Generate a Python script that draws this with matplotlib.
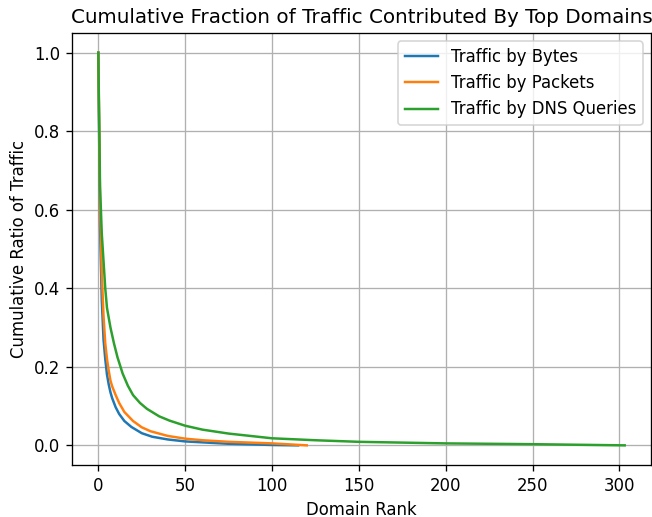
import numpy as np
import matplotlib
matplotlib.use('Agg')
import matplotlib.pyplot as plt

# values (domain rank -> remaining fraction)
bytes_rank = [0, 1, 2, 3, 4, 5, 6, 7, 8, 10, 12, 15, 19, 25, 31, 40, 50, 75, 100, 115]
bytes_ratio = [1.0, 0.56, 0.37, 0.27, 0.22, 0.18, 0.155, 0.135, 0.12, 0.097, 0.08,
               0.062, 0.047, 0.031, 0.022, 0.015, 0.01, 0.004, 0.001, 0.0]

packets_rank = [0, 1, 2, 3, 4, 5, 6, 7, 8, 10, 12, 15, 20, 25, 30, 40, 50, 60, 75, 100, 120]
packets_ratio = [1.0, 0.62, 0.44, 0.33, 0.26, 0.22, 0.19, 0.165, 0.15, 0.128, 0.108,
                 0.085, 0.062, 0.046, 0.036, 0.024, 0.017, 0.013, 0.009, 0.005, 0.0]

dns_rank = [0, 1, 2, 3, 4, 5, 7, 9, 11, 14, 17, 20, 24, 28, 35, 41, 50, 60, 75,
            100, 125, 150, 200, 250, 303]
dns_ratio = [1.0, 0.66, 0.54, 0.47, 0.40, 0.35, 0.30, 0.26, 0.225, 0.183, 0.152,
             0.128, 0.108, 0.093, 0.074, 0.063, 0.05, 0.04, 0.03, 0.018, 0.013,
             0.009, 0.005, 0.003, 0.0]

# reference looks rendered at a larger scale, so use a higher dpi
fig = plt.figure(figsize=(652 / 119, 517 / 119), dpi=119)
ax = fig.add_axes([0.1104, 0.1006, 0.8881, 0.8355])

ax.plot(bytes_rank, bytes_ratio, label='Traffic by Bytes')
ax.plot(packets_rank, packets_ratio, label='Traffic by Packets')
ax.plot(dns_rank, dns_ratio, label='Traffic by DNS Queries')

ax.set_xlabel('Domain Rank')
ax.set_ylabel('Cumulative Ratio of Traffic')
ax.set_title('Cumulative Fraction of Traffic Contributed By Top Domains')
ax.grid(True)
ax.legend(loc='upper right')

fig.savefig('out.png', dpi=119)
